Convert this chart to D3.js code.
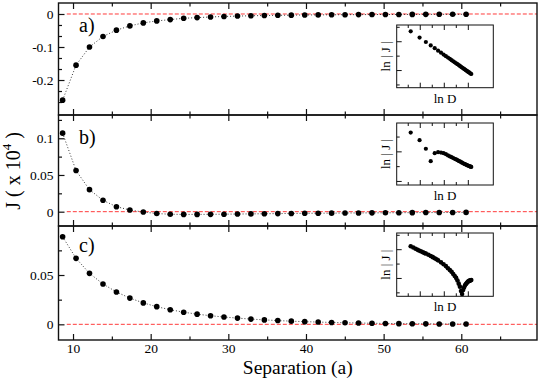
<!DOCTYPE html>
<html>
<head>
<script src="https://d3js.org/d3.v7.min.js"></script>
<style>
  body { margin: 0; background: #fff; }
</style>
</head>
<body>
<div id="chart"></div>
<script>

// separation (a) of the computed points
const separation = [8.66, 10.39, 12.12, 13.86, 15.59, 17.32, 19.05, 20.78, 22.52, 24.25, 25.98,
  27.71, 29.44, 31.18, 32.91, 34.64, 36.37, 38.11, 39.84, 41.57, 43.30, 45.03, 46.77, 48.50,
  50.23, 51.96, 53.69, 55.43, 57.16, 58.89, 60.62];

// J (x 10^4) for the three cases
const jA = [-0.261, -0.155, -0.100, -0.068, -0.049, -0.036, -0.027, -0.021, -0.017, -0.013, -0.011,
  -0.009, -0.0075, -0.0063, -0.0054, -0.0046, -0.0040, -0.0035, -0.0030, -0.0027, -0.0024, -0.0021,
  -0.0019, -0.0017, -0.0015, -0.0014, -0.0012, -0.0011, -0.0010, -0.0009, -0.0008];
const jB = [0.107, 0.056, 0.030, 0.0155, 0.0068, 0.0023, -0.0005, -0.0025, -0.0035, -0.0037, -0.0037,
  -0.0036, -0.0034, -0.0032, -0.0030, -0.0028, -0.0026, -0.0024, -0.0022, -0.0021, -0.0020, -0.0018,
  -0.0017, -0.0016, -0.0015, -0.0014, -0.0013, -0.0012, -0.0012, -0.0011, -0.0010];
const jC = [0.0888, 0.0669, 0.0517, 0.0409, 0.0328, 0.0266, 0.0217, 0.0179, 0.0148, 0.0123, 0.0103,
  0.0087, 0.0074, 0.0063, 0.0053, 0.0045, 0.0038, 0.0032, 0.0027, 0.0023, 0.0019, 0.0016,
  0.0013, 0.0011, 0.0009, 0.0007, 0.0006, 0.0005, 0.0004, 0.0003, 0.0003];

// insets: ln|J| against ln D
const insetD = [2, 3, 4, 5, 6, 7, 8, 9, 10, 11, 12, 13, 14, 15, 16, 17, 18, 19, 20, 21, 22, 23, 24,
  25, 26, 27, 28, 29, 30, 31, 32];
const insetA = [-2.28, -2.71, -3.02, -3.26, -3.45, -3.62, -3.76, -3.89, -4.00, -4.10, -4.19, -4.28,
  -4.36, -4.43, -4.50, -4.56, -4.62, -4.68, -4.74, -4.79, -4.84, -4.89, -4.93, -4.98, -5.02, -5.06,
  -5.10, -5.13, -5.17, -5.21, -5.24];
const insetB = [-1.70, -2.21, -2.79, -3.63, -3.09, -3.02, -3.05, -3.09, -3.16, -3.24, -3.31, -3.36,
  -3.42, -3.47, -3.51, -3.56, -3.61, -3.65, -3.69, -3.73, -3.77, -3.81, -3.83, -3.86, -3.89, -3.92,
  -3.94, -3.96, -3.98, -4.00, -4.02];
const insetCD = [2, 2.25, 2.5, 2.75, 3, 3.25, 3.5, 3.75, 4, 4.5, 5, 5.5, 6, 6.5, 7, 8, 9, 10, 11, 12,
  13, 14, 15, 16, 17, 18, 19, 20, 21, 22, 23, 24, 25, 26, 27, 28, 29, 30, 31, 32];
const insetC = [-2.76, -2.85, -2.93, -3.01, -3.07, -3.13, -3.18, -3.23, -3.27, -3.35, -3.44, -3.52,
  -3.59, -3.66, -3.74, -3.88, -4.01, -4.14, -4.29, -4.42, -4.54, -4.69, -4.83, -4.96, -5.14, -5.36,
  -5.57, -5.87, -6.08, -5.80, -5.63, -5.47, -5.39, -5.32, -5.25, -5.19, -5.17, -5.15, -5.13, -5.11];

const xMajor = [10, 20, 30, 40, 50, 60];
const xMinor = [15, 25, 35, 45, 55, 65];
const insetXTicks = [0.58, 1.13, 1.68, 2.23, 2.78, 3.33];

var serif = "'Liberation Serif'";

var width = 540, height = 378;
var left = 58.5, right = 537;

var svg = d3.select("#chart").append("svg")
  .attr("width", width)
  .attr("height", height)
  .style("font-family", serif);

svg.append("rect").attr("width", width).attr("height", height).attr("fill", "#fff");

var x = d3.scaleLinear().domain([8.13, 69.75]).range([left, right]);

var panels = [
  { name: "a)", top: 3, bottom: 115, domain: [-0.306, 0.0333], data: jA,
    major: [0, -0.1, -0.2], minor: [-0.0333, -0.0667, -0.1333, -0.1667, -0.2333, -0.2667],
    labelY: 32,
    inset: { x0: 396.7, x1: 493.3, y0: 25, y1: 87.7, domain: [-6.19, -1.84], ticks: [-2, -3, -4, -5, -6], d: insetD, v: insetA, r: 2.1 } },
  { name: "b)", top: 115, bottom: 226, domain: [-0.0195, 0.1317], data: jB,
    major: [0, 0.05, 0.1], minor: [0.025, 0.075, 0.125],
    labelY: 143.5,
    inset: { x0: 396.7, x1: 493.3, y0: 123, y1: 185, domain: [-5.24, -1.05], ticks: [-2, -3, -4, -5], d: insetD, v: insetB, r: 2.1 } },
  { name: "c)", top: 226, bottom: 340, domain: [-0.0159, 0.0997], data: jC,
    major: [0, 0.05], minor: [0.025, 0.075],
    labelY: 252,
    inset: { x0: 396.7, x1: 493.3, y0: 233, y1: 296.3, domain: [-6.24, -1.84], ticks: [-2, -3, -4, -5, -6], d: insetCD, v: insetC, r: 2.3 } }
];

panels.forEach(function (p, i) {
  var y = d3.scaleLinear().domain(p.domain).range([p.bottom, p.top]);
  var g = svg.append("g");

  // y axis, ticks pointing inward
  g.append("g")
    .attr("transform", "translate(" + left + ",0)")
    .call(d3.axisLeft(y).tickValues(p.minor).tickSize(-3.5).tickFormat(""));
  g.append("g")
    .attr("transform", "translate(" + left + ",0)")
    .call(d3.axisLeft(y).tickValues(p.major).tickSize(-6).tickPadding(5)
      .tickFormat(function (d) { return d === 0 ? "0" : String(d); }));

  // x ticks on top and bottom of every panel
  g.append("g").attr("transform", "translate(0," + p.bottom + ")")
    .call(d3.axisBottom(x).tickValues(xMinor).tickSize(-3.5).tickFormat(""));
  g.append("g").attr("transform", "translate(0," + p.bottom + ")")
    .call(d3.axisBottom(x).tickValues(xMajor).tickSize(-6).tickPadding(3)
      .tickFormat(i === 2 ? d3.format("d") : ""));
  g.append("g").attr("transform", "translate(0," + p.top + ")")
    .call(d3.axisTop(x).tickValues(xMinor).tickSize(-3.5).tickFormat(""));
  g.append("g").attr("transform", "translate(0," + p.top + ")")
    .call(d3.axisTop(x).tickValues(xMajor).tickSize(-6).tickFormat(""));

  g.selectAll(".domain").remove();
  g.selectAll("g").attr("font-family", "Liberation Serif").attr("font-size", 13.5);
  g.selectAll(".tick line").attr("stroke", "#111").attr("stroke-width", 1.2);
  g.selectAll(".tick text")
    .style("font-family", serif)
    .style("font-size", "13.5px")
    .attr("fill", "#000");

  // zero line
  g.append("line")
    .attr("x1", x(9.2)).attr("x2", right)
    .attr("y1", y(0)).attr("y2", y(0))
    .attr("stroke", "#ff3b3b")
    .attr("stroke-width", 1)
    .attr("stroke-dasharray", "4,2");

  var pts = separation.map(function (s, j) { return [s, p.data[j]]; });

  g.append("path")
    .datum(pts)
    .attr("fill", "none")
    .attr("stroke", "#222")
    .attr("stroke-width", 0.9)
    .attr("stroke-dasharray", "1,2")
    .attr("d", d3.line().x(function (d) { return x(d[0]); }).y(function (d) { return y(d[1]); }));

  g.selectAll("circle.pt")
    .data(pts)
    .enter()
    .append("circle")
    .attr("class", "pt")
    .attr("cx", function (d) { return x(d[0]); })
    .attr("cy", function (d) { return y(d[1]); })
    .attr("r", 2.8)
    .attr("fill", "#000");

  g.append("text")
    .attr("x", 79)
    .attr("y", p.labelY)
    .style("font-family", serif)
    .style("font-size", "20px")
    .text(p.name);

  // inset
  var s = p.inset;
  var ix = d3.scaleLinear().domain([0.052, 4.473]).range([s.x0, s.x1]);
  var iy = d3.scaleLinear().domain(s.domain).range([s.y1, s.y0]);
  var ig = g.append("g");

  ig.append("rect")
    .attr("x", s.x0).attr("y", s.y0)
    .attr("width", s.x1 - s.x0).attr("height", s.y1 - s.y0)
    .attr("fill", "#fff");

  insetXTicks.forEach(function (t, k) {
    var len = k % 2 === 1 ? 5 : 3;
    ig.append("line").attr("x1", ix(t)).attr("x2", ix(t))
      .attr("y1", s.y1).attr("y2", s.y1 - len).attr("stroke", "#111");
    ig.append("line").attr("x1", ix(t)).attr("x2", ix(t))
      .attr("y1", s.y0).attr("y2", s.y0 + len).attr("stroke", "#111");
  });
  s.ticks.forEach(function (t) {
    var len = Math.abs(t) % 2 === 1 ? 5 : 3;
    ig.append("line").attr("x1", s.x0).attr("x2", s.x0 + len)
      .attr("y1", iy(t)).attr("y2", iy(t)).attr("stroke", "#111");
  });

  ig.selectAll("circle")
    .data(s.d.map(function (d, j) { return [Math.log(d), s.v[j]]; }))
    .enter()
    .append("circle")
    .attr("cx", function (d) { return ix(d[0]); })
    .attr("cy", function (d) { return iy(d[1]); })
    .attr("r", s.r)
    .attr("fill", "#000");

  ig.append("rect")
    .attr("x", s.x0).attr("y", s.y0)
    .attr("width", s.x1 - s.x0).attr("height", s.y1 - s.y0)
    .attr("fill", "none")
    .attr("stroke", "#111")
    .attr("stroke-width", 1);

  ig.append("text")
    .attr("x", (s.x0 + s.x1) / 2)
    .attr("y", s.y1 + 15)
    .attr("text-anchor", "middle")
    .style("font-family", serif)
    .style("font-size", "13px")
    .text("ln D");

  ig.append("text")
    .attr("transform", "translate(" + (s.x0 - 6.5) + "," + ((s.y0 + s.y1) / 2) + ") rotate(-90)")
    .attr("text-anchor", "middle")
    .style("font-family", serif)
    .style("font-size", "13px")
    .text("ln | J |");

  // panel frame
  g.append("rect")
    .attr("x", left).attr("y", p.top)
    .attr("width", right - left).attr("height", p.bottom - p.top)
    .attr("fill", "none")
    .attr("stroke", "#111")
    .attr("stroke-width", 1.4);
});

// axis titles
svg.append("text")
  .attr("x", (left + right) / 2)
  .attr("y", 373.5)
  .attr("text-anchor", "middle")
  .style("font-family", serif)
  .style("font-size", "19.5px")
  .text("Separation (a)");

var yTitle = svg.append("text")
  .attr("transform", "translate(20,171) rotate(-90)")
  .attr("text-anchor", "middle")
  .style("font-family", serif)
  .style("font-size", "20px");
yTitle.append("tspan").text("J ( x 10");
yTitle.append("tspan").attr("dy", -9).style("font-size", "13px").text("4");
yTitle.append("tspan").attr("dy", 9).text(" )");

</script>
</body>
</html>
